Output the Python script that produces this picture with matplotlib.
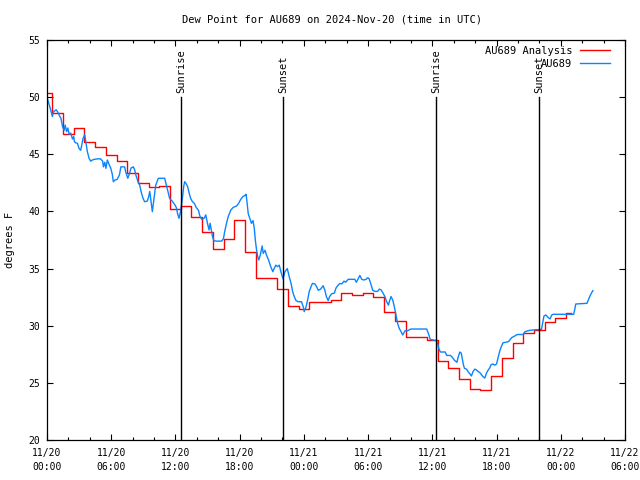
import datetime as dt
import matplotlib
matplotlib.use("Agg")
import matplotlib.pyplot as plt

# hours since 2024-11-20 00:00 UTC
start = dt.datetime(2024, 11, 20, 0, 0)

# hourly analysis values (deg F), hour 0..49
analysis_vals = [50.4, 48.6, 46.8, 47.3, 46.05, 45.6, 44.9, 44.4, 43.4, 42.5,
                 42.1, 42.2, 40.2, 40.5, 39.5, 38.2, 36.7, 37.6, 39.25, 36.45,
                 34.2, 34.15, 33.2, 31.75, 31.45, 32.05, 32.05, 32.25, 32.9, 32.7,
                 32.9, 32.5, 31.2, 30.45, 29.05, 29.05, 28.75, 26.9, 26.3, 25.3,
                 24.5, 24.35, 25.6, 27.15, 28.45, 29.35, 29.65, 30.3, 30.7, 31.1]
analysis_hrs = list(range(len(analysis_vals)))

# station observations
obs_hrs = [0.0, 0.34, 0.5, 0.6, 0.85, 1.0, 1.15, 1.3, 1.46, 1.6, 1.7, 1.83, 1.95,
           2.07, 2.22, 2.38, 2.5, 2.56, 2.68, 2.84, 3.0, 3.15, 3.24, 3.37, 3.52,
           3.6, 3.77, 3.93, 4.08, 4.24, 4.4, 4.7, 5.0, 5.2, 5.27, 5.4, 5.5, 5.64,
           5.8, 5.95, 6.1, 6.2, 6.35, 6.55, 6.77, 6.9, 7.25, 7.37, 7.55, 7.7, 7.85,
           8.07, 8.2, 8.3, 8.5, 8.66, 8.8, 8.97, 9.12, 9.37, 9.5, 9.6, 9.7, 9.84,
           10.0, 10.16, 10.4, 11.0, 11.15, 11.3, 11.45, 11.7, 11.96, 12.1, 12.2,
           12.33, 12.5, 12.65, 12.77, 12.86, 12.98, 13.14, 13.27, 13.42, 13.58,
           13.77, 13.93, 14.15, 14.3, 14.46, 14.68, 14.83, 14.99, 15.14, 15.24,
           15.33, 15.46, 15.6, 15.85, 16.3, 16.48, 16.6, 16.77, 16.93, 17.18,
           17.4, 17.7, 17.9, 18.1, 18.3, 18.5, 18.6, 18.7, 18.8, 19.0, 19.1,
           19.25, 19.37, 19.46, 19.56, 19.68, 19.78, 19.93, 20.1, 20.2, 20.37,
           20.5, 20.7, 20.9, 21.1, 21.22, 21.38, 21.54, 21.7, 21.85, 22.05,
           22.23, 22.45, 22.6, 22.8, 22.95, 23.1, 23.26, 23.47, 23.78, 23.94,
           24.03, 24.2, 24.35, 24.5, 24.66, 24.8, 25.03, 25.2, 25.34, 25.56,
           25.8, 25.96, 26.1, 26.27, 26.4, 26.6, 26.85, 27.0, 27.2, 27.36, 27.55,
           27.75, 27.9, 28.14, 28.76, 28.9, 29.07, 29.23, 29.4, 29.6, 29.8, 29.97,
           30.1, 30.25, 30.43, 30.65, 30.87, 31.05, 31.2, 31.36, 31.57, 31.73,
           31.9, 31.98, 32.14, 32.3, 32.45, 32.6, 32.76, 32.9, 33.07, 33.23,
           33.35, 33.45, 33.67, 34.0, 35.47, 35.64, 35.8, 36.34, 36.5, 36.6,
           36.75, 37.2, 37.34, 37.7, 37.9, 38.06, 38.3, 38.4, 38.56, 38.7, 38.9,
           39.0, 39.2, 39.34, 39.5, 39.65, 39.8, 39.96, 40.1, 40.27, 40.43, 40.6,
           40.74, 40.9, 41.05, 41.2, 41.36, 41.5, 41.67, 41.83, 42.0, 42.14, 42.3,
           42.46, 42.6, 42.87, 43.1, 43.24, 43.4, 43.7, 43.93, 44.5, 44.65, 45.1,
           46.2, 46.3, 46.43, 46.6, 46.84, 47.0, 47.16, 47.3, 49.2, 49.3, 49.4,
           50.45, 50.55, 50.7, 50.85, 51.0]
obs_vals = [50.0, 48.9, 48.3, 48.7, 48.9, 48.7, 48.4, 48.15, 47.4, 47.1, 47.56,
            46.98, 47.3, 46.75, 46.85, 46.34, 46.55, 46.1, 46.0, 45.96, 45.5,
            45.35, 45.8, 46.4, 46.7, 46.25, 45.23, 44.65, 44.4, 44.5, 44.55, 44.6,
            44.6, 44.4, 43.9, 44.3, 43.77, 44.5, 44.1, 43.8, 43.25, 42.6, 42.75,
            42.8, 43.2, 43.9, 43.9, 43.4, 42.9, 43.3, 43.8, 43.9, 43.6, 43.2,
            42.6, 42.3, 41.7, 41.15, 40.85, 40.9, 41.3, 41.75, 41.0, 39.98, 41.15,
            42.3, 42.9, 42.9, 42.3, 41.75, 41.15, 40.9, 40.56, 40.3, 39.8, 39.4,
            40.1, 41.15, 42.17, 42.6, 42.46, 42.17, 41.64, 41.15, 40.86, 40.7,
            40.36, 40.1, 39.54, 39.3, 39.4, 39.7, 38.96, 38.38, 38.96, 38.5, 37.8,
            37.44, 37.4, 37.4, 37.6, 38.23, 38.96, 39.55, 40.13, 40.36, 40.47,
            40.7, 41.06, 41.3, 41.4, 41.5, 40.7, 39.8, 39.25, 38.96, 39.2, 38.5,
            37.5, 36.77, 36.05, 35.75, 36.2, 36.98, 36.33, 36.6, 36.2, 35.75,
            35.17, 34.73, 35.0, 35.3, 35.17, 35.3, 34.73, 34.1, 34.73, 35.0, 34.4,
            33.7, 32.99, 32.55, 32.2, 32.1, 32.1, 31.65, 31.23, 31.65, 32.25, 33.0,
            33.4, 33.7, 33.66, 33.4, 33.1, 33.2, 33.5, 33.1, 32.55, 32.2, 32.55,
            32.8, 32.85, 33.3, 33.55, 33.7, 33.66, 33.9, 33.8, 34.06, 34.06, 33.8,
            34.1, 34.4, 34.06, 34.0, 34.06, 34.2, 34.1, 33.66, 33.1, 33.0, 33.0,
            33.2, 33.15, 32.9, 32.55, 32.1, 31.8, 32.1, 32.55, 32.25, 31.65, 30.94,
            30.2, 29.78, 29.5, 29.19, 29.4, 29.56, 29.56, 29.71, 29.71, 29.3, 28.8,
            28.7, 28.45, 28.0, 27.7, 27.7, 27.4, 27.4, 27.2, 26.98, 26.8, 27.2,
            27.7, 27.6, 26.6, 26.27, 26.2, 25.98, 25.8, 25.6, 25.98, 26.2, 26.15,
            26.0, 25.9, 25.7, 25.54, 25.42, 25.83, 26.1, 26.3, 26.6, 26.65, 26.55,
            26.65, 27.2, 27.8, 28.2, 28.5, 28.55, 28.6, 28.75, 28.95, 29.1, 29.23,
            29.23, 29.48, 29.6, 29.69, 30.2, 30.85, 30.94, 30.7, 30.6, 30.94, 31.0,
            31.0, 31.4, 31.9, 31.96, 32.2, 32.54, 32.83, 33.07]

sun_hrs = [12.55, 22.08, 36.37, 46.0]
sun_names = ["Sunrise", "Sunset", "Sunrise", "Sunset"]

mono = "DejaVu Sans Mono"
plt.rcParams["font.family"] = mono
plt.rcParams["font.size"] = 7

fig = plt.figure(figsize=(6.4, 4.8), dpi=100)
ax = fig.add_axes([47/640, 40/480, 578/640, 400/480])

ax.plot(analysis_hrs, analysis_vals, color="#ff0000", lw=1.0,
        drawstyle="steps-mid", label="AU689 Analysis")
ax.plot(obs_hrs, obs_vals, color="#0a84ff", lw=1.0, label="AU689")

for h, name in zip(sun_hrs, sun_names):
    ax.plot([h, h], [20, 50], color="black", lw=1.0)
    ax.annotate(name, (h, 50), xytext=(0, 3), textcoords="offset points",
                rotation=90, ha="center", va="bottom", fontsize=7.5)

ax.set_xlim(0, 54)
ax.set_ylim(20, 55)

xt = list(range(0, 55, 6))
xlabels = [(start + dt.timedelta(hours=h)).strftime("%m/%d\n%H:%M") for h in xt]
ax.set_xticks(xt)
ax.set_xticklabels(xlabels, linespacing=1.4)
ax.set_xticks(list(range(0, 55, 2)), minor=True)
ax.set_yticks(range(20, 56, 5))

ax.tick_params(which="both", direction="in", top=True, right=True,
               labelsize=7, width=0.8)
ax.tick_params(which="major", length=4.5)
ax.tick_params(which="minor", length=2.5)
ax.tick_params(axis="x", pad=6)
ax.tick_params(axis="y", pad=5)
for s in ax.spines.values():
    s.set_linewidth(0.9)

ax.legend(loc="upper right", bbox_to_anchor=(610/640, 1 - 46/480),
          bbox_transform=fig.transFigure, frameon=False, markerfirst=False,
          borderpad=0, borderaxespad=0, handlelength=2.9, handletextpad=0.7,
          labelspacing=0.25, fontsize=7.5)

fig.text(332/640, 1 - 20/480, "Dew Point for AU689 on 2024-Nov-20 (time in UTC)",
         ha="center", va="center", fontsize=7.5)
fig.text(10/640, 0.5, "degrees F", rotation=90, ha="center", va="center",
         fontsize=7.5)

fig.savefig("out.png", dpi=100)
